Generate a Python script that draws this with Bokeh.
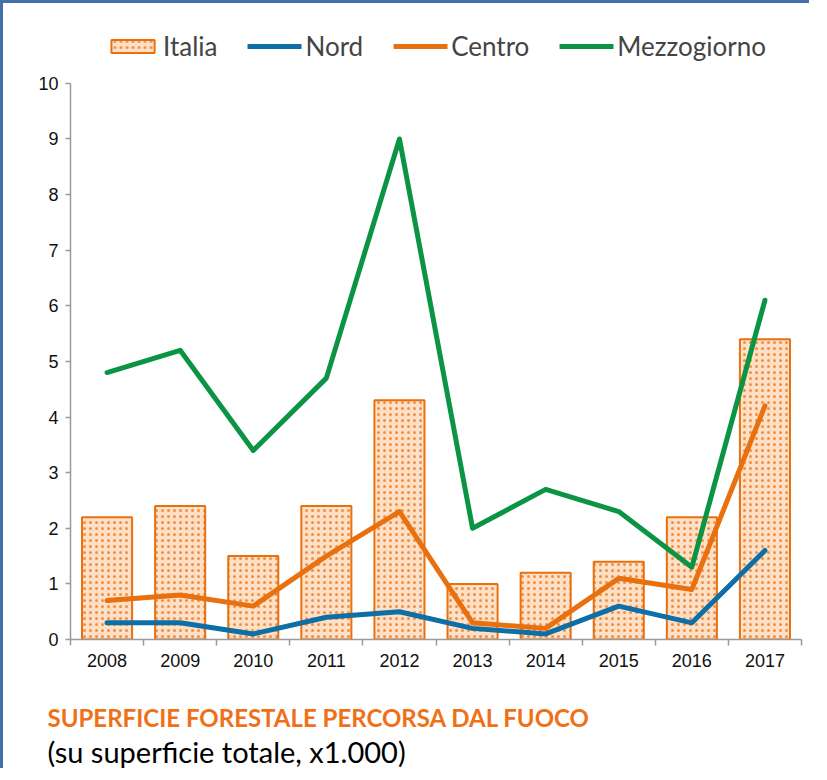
from bokeh.plotting import figure
from bokeh.models import (ColumnDataSource, Range1d, FixedTicker, Legend, LegendItem, Title)
from bokeh.embed import file_html
from bokeh.resources import INLINE

years = [2008, 2009, 2010, 2011, 2012, 2013, 2014, 2015, 2016, 2017]
year_labels = [str(y) for y in years]
italia = [2.2, 2.4, 1.5, 2.4, 4.3, 1.0, 1.2, 1.4, 2.2, 5.4]
nord = [0.3, 0.3, 0.1, 0.4, 0.5, 0.2, 0.1, 0.6, 0.3, 1.6]
centro = [0.7, 0.8, 0.6, 1.5, 2.3, 0.3, 0.2, 1.1, 0.9, 4.2]
mezzogiorno = [4.8, 5.2, 3.4, 4.7, 9.0, 2.0, 2.7, 2.3, 1.3, 6.1]
y_ticks = list(range(0, 11))

ORANGE = "#E8700F"
BLUE = "#0E6FA6"
GREEN = "#0A9444"
FRAME = "#4470AA"
AXIS = "#9A9A9A"

src = ColumnDataSource(dict(x=years, italia=italia, nord=nord, centro=centro, mezz=mezzogiorno))

p = figure(frame_width=731, frame_height=619, output_backend="svg", toolbar_location=None,
           x_range=Range1d(years[0] - 0.5, years[-1] + 0.5), y_range=Range1d(0, 11.13),
           min_border_left=67, min_border_right=8, min_border_top=17, min_border_bottom=0)
p.styles = {"border-left": f"3px solid {FRAME}", "border-top": f"3px solid {FRAME}"}
p.outline_line_color = None
p.xgrid.grid_line_color = None
p.ygrid.grid_line_color = None
p.background_fill_color = "white"
p.border_fill_color = "white"

bars = p.vbar(x="x", top="italia", width=0.685, source=src, fill_color="#FDE0C6",
              line_color=ORANGE, line_width=2, hatch_pattern="dot", hatch_color="#F08A3C",
              hatch_scale=6, hatch_weight=3.5, hatch_alpha=0.95)
ln = p.line("x", "nord", source=src, line_color=BLUE, line_width=5, line_join="round", line_cap="round")
lc = p.line("x", "centro", source=src, line_color=ORANGE, line_width=5, line_join="round", line_cap="round")
lm = p.line("x", "mezz", source=src, line_color=GREEN, line_width=5, line_join="round", line_cap="round")

# axes
p.xaxis.ticker = FixedTicker(ticks=years, minor_ticks=[y - 0.5 for y in years] + [years[-1] + 0.5])
p.xaxis.major_label_overrides = {y: l for y, l in zip(years, year_labels)}
p.xaxis.major_tick_line_color = None
p.xaxis.minor_tick_line_color = AXIS
p.xaxis.minor_tick_line_width = 1.5
p.xaxis.minor_tick_out = 6
p.xaxis.minor_tick_in = 0
p.xaxis.major_label_standoff = 8
p.yaxis.ticker = FixedTicker(ticks=y_ticks)
p.yaxis.bounds = (0, 10)
p.yaxis.major_tick_line_color = AXIS
p.yaxis.major_tick_line_width = 1.5
p.yaxis.major_tick_out = 5
p.yaxis.major_tick_in = 0
p.yaxis.minor_tick_line_color = None
p.yaxis.major_label_standoff = 7
for ax in (p.xaxis, p.yaxis):
    ax.axis_line_color = AXIS
    ax.axis_line_width = 1.5
    ax.major_label_text_font = "Liberation Sans"
    ax.major_label_text_font_size = "18px"
    ax.major_label_text_color = "#111111"

legend = Legend(items=[LegendItem(label="Italia", renderers=[bars]),
                       LegendItem(label="Nord", renderers=[ln]),
                       LegendItem(label="Centro", renderers=[lc]),
                       LegendItem(label="Mezzogiorno", renderers=[lm])],
                orientation="horizontal", location="top_center",
                label_text_font="Lato", label_text_font_size="26px",
                glyph_width=54, glyph_height=16, spacing=30, label_standoff=4,
                border_line_color=None, background_fill_alpha=0,
                margin=10, padding=0)
p.add_layout(legend)

spacer = Title(text=" ", text_font="Lato", text_font_size="24px", standoff=0)
ttl = Title(text="SUPERFICIE FORESTALE PERCORSA DAL FUOCO", text_font="Lato", text_font_size="24px",
            text_font_style="bold", text_color="#F07018", align="left", offset=-23, standoff=0)
sub = Title(text="(su superficie totale, x1.000)", text_font="Lato", text_font_size="29px",
            text_font_style="normal", text_color="black", align="left", offset=-23, standoff=0)
p.add_layout(spacer, "below")
p.add_layout(ttl, "below")
p.add_layout(sub, "below")

open("out.html", "w").write(file_html(p, INLINE))
